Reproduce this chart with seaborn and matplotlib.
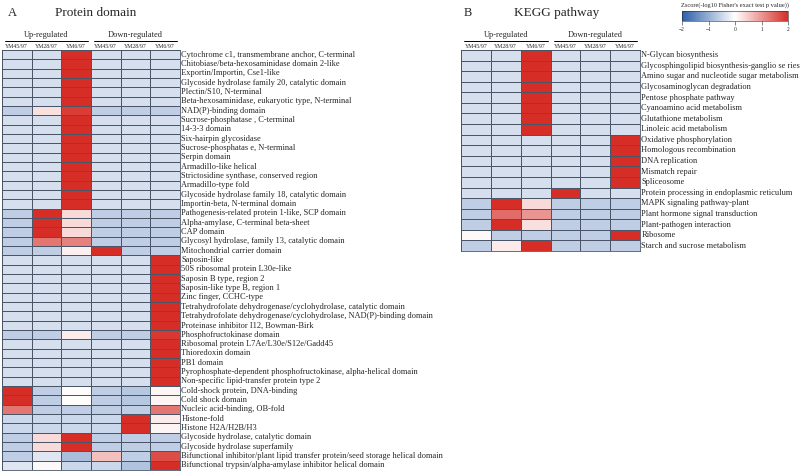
import numpy as np
import pandas as pd
import matplotlib
matplotlib.use('Agg')
import matplotlib.pyplot as plt
import seaborn as sns
from matplotlib.colors import LinearSegmentedColormap
from matplotlib.lines import Line2D

# Column / group labels
samples = ['YM45/97', 'YM28/97', 'YM6/97', 'YM45/97', 'YM28/97', 'YM6/97']
groups = ['Up-regulated', 'Down-regulated']

# Panel A: protein domains (z-scores)
domains = [
    'Cytochrome c1, transmembrane anchor, C-terminal',
    'Chitobiase/beta-hexosaminidase domain 2-like',
    'Exportin/Importin, Cse1-like',
    'Glycoside hydrolase family 20, catalytic domain',
    'Plectin/S10, N-terminal',
    'Beta-hexosaminidase, eukaryotic type, N-terminal',
    'NAD(P)-binding domain',
    'Sucrose-phosphatase , C-terminal',
    '14-3-3 domain',
    'Six-hairpin glycosidase',
    'Sucrose-phosphatas e, N-terminal',
    'Serpin domain',
    'Armadillo-like helical',
    'Strictosidine synthase, conserved region',
    'Armadillo-type fold',
    'Glycoside hydrolase family 18, catalytic domain',
    'Importin-beta, N-terminal domain',
    'Pathogenesis-related protein 1-like, SCP domain',
    'Alpha-amylase, C-terminal beta-sheet',
    'CAP domain',
    'Glycosyl hydrolase, family 13, catalytic domain',
    'Mitochondrial carrier domain',
    'Saposin-like',
    '50S ribosomal protein L30e-like',
    'Saposin B type, region 2',
    'Saposin-like type B, region 1',
    'Zinc finger, CCHC-type',
    'Tetrahydrofolate dehydrogenase/cyclohydrolase, catalytic domain',
    'Tetrahydrofolate dehydrogenase/cyclohydrolase, NAD(P)-binding domain',
    'Proteinase inhibitor I12, Bowman-Birk',
    'Phosphofructokinase domain',
    'Ribosomal protein L7Ae/L30e/S12e/Gadd45',
    'Thioredoxin domain',
    'PB1 domain',
    'Pyrophosphate-dependent phosphofructokinase, alpha-helical domain',
    'Non-specific lipid-transfer protein type 2',
    'Cold-shock protein, DNA-binding',
    'Cold shock domain',
    'Nucleic acid-binding, OB-fold',
    'Histone-fold',
    'Histone H2A/H2B/H3',
    'Glycoside hydrolase, catalytic domain',
    'Glycoside hydrolase superfamily',
    'Bifunctional inhibitor/plant lipid transfer protein/seed storage helical domain',
    'Bifunctional trypsin/alpha-amylase inhibitor helical domain',
]
domain_z = [
    [-0.4, -0.4, 2.0, -0.4, -0.4, -0.4],
    [-0.4, -0.4, 2.0, -0.4, -0.4, -0.4],
    [-0.4, -0.4, 2.0, -0.4, -0.4, -0.4],
    [-0.4, -0.4, 2.0, -0.4, -0.4, -0.4],
    [-0.4, -0.4, 2.0, -0.4, -0.4, -0.4],
    [-0.4, -0.4, 2.0, -0.4, -0.4, -0.4],
    [-0.6, 0.3, 1.85, -0.6, -0.6, -0.6],
    [-0.4, -0.4, 2.0, -0.4, -0.4, -0.4],
    [-0.4, -0.4, 2.0, -0.4, -0.4, -0.4],
    [-0.4, -0.4, 2.0, -0.4, -0.4, -0.4],
    [-0.4, -0.4, 2.0, -0.4, -0.4, -0.4],
    [-0.4, -0.4, 2.0, -0.4, -0.4, -0.4],
    [-0.4, -0.4, 2.0, -0.4, -0.4, -0.4],
    [-0.4, -0.4, 2.0, -0.4, -0.4, -0.4],
    [-0.4, -0.4, 2.0, -0.4, -0.4, -0.4],
    [-0.4, -0.4, 2.0, -0.4, -0.4, -0.4],
    [-0.4, -0.4, 2.0, -0.4, -0.4, -0.4],
    [-0.6, 2.0, 0.35, -0.6, -0.6, -0.6],
    [-0.6, 2.0, 0.35, -0.6, -0.6, -0.6],
    [-0.6, 2.0, 0.35, -0.6, -0.6, -0.6],
    [-0.6, 1.3, 1.2, -0.6, -0.6, -0.6],
    [-0.6, -0.6, 0.15, 2.0, -0.6, -0.6],
    [-0.4, -0.4, -0.4, -0.4, -0.4, 2.0],
    [-0.4, -0.4, -0.4, -0.4, -0.4, 2.0],
    [-0.4, -0.4, -0.4, -0.4, -0.4, 2.0],
    [-0.4, -0.4, -0.4, -0.4, -0.4, 2.0],
    [-0.4, -0.4, -0.4, -0.4, -0.4, 2.0],
    [-0.4, -0.4, -0.4, -0.4, -0.4, 2.0],
    [-0.4, -0.4, -0.4, -0.4, -0.4, 2.0],
    [-0.4, -0.4, -0.4, -0.4, -0.4, 2.0],
    [-0.6, -0.6, 0.2, -0.6, -0.6, 1.9],
    [-0.4, -0.4, -0.4, -0.4, -0.4, 2.0],
    [-0.4, -0.4, -0.4, -0.4, -0.4, 2.0],
    [-0.4, -0.4, -0.4, -0.4, -0.4, 2.0],
    [-0.4, -0.4, -0.4, -0.4, -0.4, 2.0],
    [-0.4, -0.4, -0.4, -0.4, -0.4, 2.0],
    [2.0, -0.6, 0.03, -0.6, -0.7, 0.1],
    [2.0, -0.6, 0.03, -0.6, -0.7, 0.1],
    [1.3, -0.6, -0.6, -0.6, -0.6, 1.3],
    [-0.5, -0.5, -0.5, -0.5, 2.0, 0.2],
    [-0.5, -0.5, -0.5, -0.5, 2.0, 0.1],
    [-0.6, 0.35, 2.0, -0.6, -0.6, -0.6],
    [-0.6, 0.35, 2.0, -0.6, -0.6, -0.6],
    [-0.6, -0.3, -0.8, 0.6, -0.6, 1.7],
    [-0.3, 0.05, -0.5, -0.5, -0.75, 2.0],
]

# Panel B: KEGG pathways
pathways = [
    'N-Glycan biosynthesis',
    'Glycosphingolipid biosynthesis-ganglio se ries',
    'Amino sugar and nucleotide sugar metabolism',
    'Glycosaminoglycan degradation',
    'Pentose phosphate pathway',
    'Cyanoamino acid metabolism',
    'Glutathione metabolism',
    'Linoleic acid metabolism',
    'Oxidative phosphorylation',
    'Homologous recombination',
    'DNA replication',
    'Mismatch repair',
    'Spliceosome',
    'Protein processing in endoplasmic reticulum',
    'MAPK signaling pathway-plant',
    'Plant hormone signal transduction',
    'Plant-pathogen interaction',
    'Ribosome',
    'Starch and sucrose metabolism',
]
pathway_z = [
    [-0.4, -0.4, 2.0, -0.4, -0.4, -0.4],
    [-0.4, -0.4, 2.0, -0.4, -0.4, -0.4],
    [-0.4, -0.4, 2.0, -0.4, -0.4, -0.4],
    [-0.4, -0.4, 2.0, -0.4, -0.4, -0.4],
    [-0.4, -0.4, 2.0, -0.4, -0.4, -0.4],
    [-0.4, -0.4, 2.0, -0.4, -0.4, -0.4],
    [-0.4, -0.4, 2.0, -0.4, -0.4, -0.4],
    [-0.4, -0.4, 2.0, -0.4, -0.4, -0.4],
    [-0.4, -0.4, -0.4, -0.4, -0.4, 2.0],
    [-0.4, -0.4, -0.4, -0.4, -0.4, 2.0],
    [-0.4, -0.4, -0.4, -0.4, -0.4, 2.0],
    [-0.4, -0.4, -0.4, -0.4, -0.4, 2.0],
    [-0.4, -0.4, -0.4, -0.4, -0.4, 2.0],
    [-0.4, -0.4, -0.4, 2.0, -0.4, -0.4],
    [-0.6, 2.0, 0.35, -0.6, -0.6, -0.6],
    [-0.6, 1.4, 1.0, -0.6, -0.6, -0.6],
    [-0.6, 2.0, 0.3, -0.6, -0.6, -0.6],
    [0.05, -0.6, -0.6, -0.6, -0.6, 2.0],
    [-0.6, 0.2, 2.0, -0.6, -0.6, -0.6],
]

sns.set_style('white')
plt.rcParams['font.family'] = ['Liberation Serif', 'DejaVu Serif']

cmap = LinearSegmentedColormap.from_list('zs', ['#2c5ea8', '#ffffff', '#d62e26'])
W, H = 800, 472


def fig_box(x0, y0, x1, y1):
    # pixel box -> figure fraction [left, bottom, width, height]
    return [x0 / W, 1 - y1 / H, (x1 - x0) / W, (y1 - y0) / H]


def fx(x):
    return x / W


def fy(y):
    return 1 - y / H


fig = plt.figure(figsize=(8, 4.72), dpi=100)


def draw_panel(box, data, rows, letter, title, letter_x, title_x):
    ax = fig.add_axes(fig_box(*box))
    df = pd.DataFrame(data, index=rows, columns=range(len(samples)))
    sns.heatmap(df, ax=ax, cmap=cmap, vmin=-2, vmax=2, cbar=False,
                linewidths=0.5, linecolor='#4a5568')
    ax.yaxis.tick_right()
    ax.set_yticks(np.arange(len(rows)) + 0.5)
    ax.set_yticklabels(rows, rotation=0, fontsize=6, va='center')
    ax.xaxis.tick_top()
    ax.set_xticks(np.arange(len(samples)) + 0.5)
    ax.set_xticklabels(samples, fontsize=4.2, rotation=0)
    ax.tick_params(length=0, pad=1)
    ax.set_xlabel('')
    ax.set_ylabel('')
    for s in ax.spines.values():
        s.set_visible(True)
        s.set_color('#4a5568')
        s.set_linewidth(0.6)
    # group headers with underline
    x0, y0, x1, y1 = box
    cw = (x1 - x0) / 6
    for g, name in enumerate(groups):
        gx0 = x0 + g * 3 * cw + 3
        gx1 = x0 + (g + 1) * 3 * cw - 3
        fig.add_artist(Line2D([fx(gx0), fx(gx1)], [fy(y0 - 9.5), fy(y0 - 9.5)],
                              color='black', lw=0.7))
        fig.text(fx((gx0 + gx1) / 2), fy(y0 - 11), name, ha='center', va='bottom',
                 fontsize=6)
    fig.text(fx(letter_x), fy(13), letter, ha='left', va='center', fontsize=9)
    fig.text(fx(title_x), fy(13), title, ha='left', va='center', fontsize=9.5)
    return ax


draw_panel((2, 50, 180, 470), domain_z, domains, 'A', 'Protein domain', 8, 55)
draw_panel((461, 50, 640, 251), pathway_z, pathways, 'B', 'KEGG pathway', 464, 514)

# Colorbar
cax = fig.add_axes(fig_box(682, 11, 788, 21))
sm = plt.cm.ScalarMappable(cmap=cmap, norm=plt.Normalize(-2, 2))
cb = fig.colorbar(sm, cax=cax, orientation='horizontal', ticks=[-2, -1, 0, 1, 2])
cb.outline.set_linewidth(0.4)
cax.tick_params(labelsize=4, length=3, width=0.4, pad=1)
fig.text(fx(735), fy(5), "Zscore(-log10 Fisher's exact test p value))",
         ha='center', va='center', fontsize=4.6)

fig.savefig('out.png', dpi=100)
